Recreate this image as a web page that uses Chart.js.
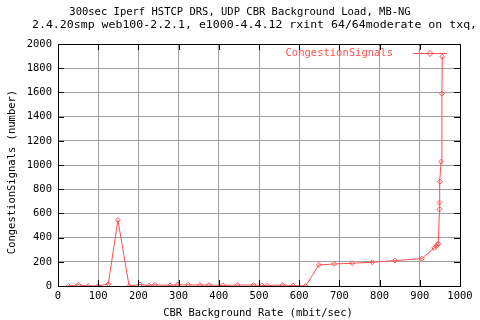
<!DOCTYPE html>
<html>
<head>
<meta charset="utf-8">
<style>
  html, body { margin: 0; padding: 0; background: #fff; }
</style>
<script src="https://cdn.jsdelivr.net/npm/chart.js@4.4.1/dist/chart.umd.min.js"></script>
</head>
<body>
<canvas id="chart" width="480" height="320"></canvas>
<script>
// CBR background rate (mbit/sec) and congestion signals counted
const rates = [26, 51, 75, 100, 125, 149, 177, 204, 227, 241, 279, 297, 324, 353, 376, 410, 446, 486,
  507, 521, 559, 585, 616, 649, 687, 732, 782, 838, 905, 936, 941, 944, 946, 949, 949, 950, 953, 955, 956];
const signals = [0, 10, 0, 2, 15, 545, 0, 12, 3, 10, 5, 10, 10, 8, 8, 5, 8, 8,
  5, 3, 8, 3, 0, 174, 182, 188, 196, 210, 226, 315, 330, 340, 350, 634, 689, 862, 1027, 1590, 1895];

const titleLines = [
  '300sec Iperf HSTCP DRS, UDP CBR Background Load, MB-NG',
  '2.4.20smp web100-2.2.1, e1000-4.4.12 rxint 64/64moderate on txq,'
];
const seriesName = 'CongestionSignals';
const xTitle = 'CBR Background Rate (mbit/sec)';
const yTitle = 'CongestionSignals (number)';

const red = 'rgb(255, 80, 80)';
const mono = '"DejaVu Sans Mono", monospace';

// gnuplot look: black frame, inward ticks, titles, key
const gnuplotFrame = {
  id: 'gnuplotFrame',
  afterDraw(chart) {
    const { ctx, chartArea: a, scales } = chart;
    ctx.save();
    ctx.strokeStyle = '#000';
    ctx.lineWidth = 1;
    ctx.beginPath();
    scales.x.ticks.forEach(t => {
      const px = Math.round(scales.x.getPixelForValue(t.value)) + 0.5;
      ctx.moveTo(px, a.bottom); ctx.lineTo(px, a.bottom - 6);
      ctx.moveTo(px, a.top); ctx.lineTo(px, a.top + 6);
    });
    scales.y.ticks.forEach(t => {
      const py = Math.round(scales.y.getPixelForValue(t.value)) + 0.5;
      ctx.moveTo(a.left, py); ctx.lineTo(a.left + 6, py);
      ctx.moveTo(a.right, py); ctx.lineTo(a.right - 6, py);
    });
    ctx.stroke();
    ctx.strokeRect(Math.round(a.left) + 0.5, Math.round(a.top) + 0.5,
      Math.round(a.right - a.left), Math.round(a.bottom - a.top));

    ctx.fillStyle = '#000';
    ctx.font = '10.5px ' + mono;
    ctx.textBaseline = 'middle';
    ctx.textAlign = 'center';
    ctx.fillText(titleLines[0], 240, 12);
    ctx.save();
    ctx.translate(32, 25);
    ctx.scale(1.1, 1);
    ctx.textAlign = 'left';
    ctx.fillText(titleLines[1], 0, 0);
    ctx.restore();

    ctx.textAlign = 'center';
    ctx.fillText(xTitle, 258, 313);
    ctx.save();
    ctx.translate(12, 172);
    ctx.rotate(-Math.PI / 2);
    ctx.fillText(yTitle, 0, 0);
    ctx.restore();

    // key
    ctx.fillStyle = red;
    ctx.textAlign = 'right';
    ctx.fillText(seriesName, 393, 53);
    ctx.strokeStyle = red;
    ctx.beginPath();
    ctx.moveTo(413, 53.5); ctx.lineTo(447, 53.5);
    ctx.stroke();
    ctx.beginPath();
    ctx.moveTo(430, 50.5); ctx.lineTo(433, 53.5); ctx.lineTo(430, 56.5); ctx.lineTo(427, 53.5);
    ctx.closePath();
    ctx.stroke();
    ctx.restore();
  }
};

const plainNumber = v => String(v);

new Chart(document.getElementById('chart'), {
  type: 'line',
  data: {
    datasets: [{
      label: seriesName,
      data: rates.map((r, i) => ({ x: r, y: signals[i] })),
      borderColor: red,
      borderWidth: 1,
      pointStyle: 'rectRot',
      pointRadius: 2.5,
      pointBorderWidth: 1,
      pointBorderColor: red,
      pointBackgroundColor: 'rgba(255,255,255,0)',
      tension: 0
    }]
  },
  options: {
    responsive: false,
    animation: false,
    layout: { padding: { top: 44, right: 20, left: 0, bottom: 0 } },
    plugins: { legend: { display: false }, title: { display: false }, tooltip: { enabled: false } },
    scales: {
      x: {
        type: 'linear', min: 0, max: 1000,
        ticks: { stepSize: 100, color: '#000', font: { family: mono, size: 10.5 }, padding: 4, maxRotation: 0, callback: plainNumber },
        grid: { color: '#a0a0a0', drawTicks: false },
        border: { display: false },
        afterFit(s) { s.height = 34; }
      },
      y: {
        min: 0, max: 2000,
        ticks: { stepSize: 200, color: '#000', font: { family: mono, size: 10.5 }, padding: 6, callback: plainNumber },
        grid: { color: '#a0a0a0', drawTicks: false },
        border: { display: false },
        afterFit(s) { s.width = 58; }
      }
    }
  },
  plugins: [gnuplotFrame]
});
</script>
</body>
</html>
